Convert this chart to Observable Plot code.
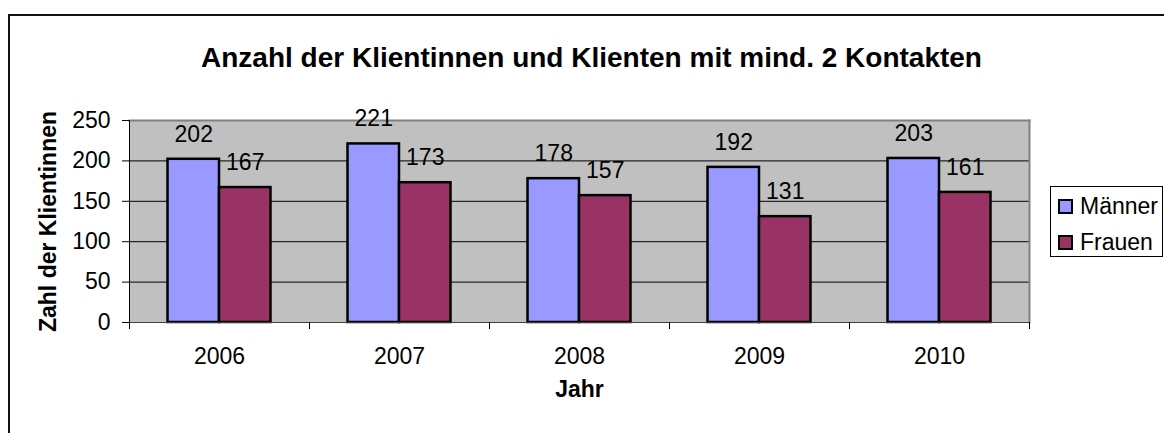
<!DOCTYPE html>
<html>
<head>
<meta charset="utf-8">
<script src="https://cdn.jsdelivr.net/npm/d3@7"></script>
<script src="https://cdn.jsdelivr.net/npm/@observablehq/plot@0.6"></script>
<style>
  html, body { margin: 0; padding: 0; background: #fff; }
  #wrap { position: relative; width: 1164px; height: 433px; overflow: hidden; font-family: "Liberation Sans", Arial, sans-serif; }
  #border { position: absolute; left: 8px; top: 14px; width: 1300px; height: 600px; border-top: 2px solid #111; border-left: 2px solid #111; box-sizing: border-box; }
  #chart { position: absolute; left: 0; top: 0; }
  #legend { position: absolute; left: 1050px; top: 186px; width: 113px; height: 71px; border: 1px solid #000; box-sizing: border-box; background: #fff; font-size: 23px; }
  .item { position: absolute; left: 7px; display: flex; align-items: center; height: 26px; }
  .sw { width: 11px; height: 11px; border: 2px solid #000; margin-right: 7px; }
</style>
</head>
<body>
<div id="wrap">
  <div id="border"></div>
  <div id="chart"></div>
  <div id="legend"></div>
</div>
<script>
const years = ["2006", "2007", "2008", "2009", "2010"];
const maenner = [202, 221, 178, 192, 203];
const frauen = [167, 173, 157, 131, 161];
const seriesNames = ["Männer", "Frauen"];
const seriesColors = ["#9999FF", "#993366"];
const yTicks = [0, 50, 100, 150, 200, 250];
const gridTicks = [50, 100, 150, 200];
const title = "Anzahl der Klientinnen und Klienten mit mind. 2 Kontakten";
const xLabel = "Jahr";
const yLabel = "Zahl der Klientinnen";

const data = years.map((y, i) => ({year: y, m: maenner[i], f: frauen[i]}));

const W = 1164, H = 433, ML = 129, MR = 135, MT = 120, MB = 111;
const step = (W - ML - MR) / years.length;
const barW = 51.5;
const gap = (step - 2 * barW) / 2;

const plot = Plot.plot({
  width: W, height: H,
  marginLeft: ML, marginRight: MR, marginTop: MT, marginBottom: MB,
  style: {fontFamily: "'Liberation Sans', Arial, sans-serif", fontSize: "23px", color: "#000", background: "transparent", overflow: "visible"},
  x: {domain: years, padding: 0},
  y: {domain: [0, 250]},
  marks: [
    Plot.frame({fill: "#C0C0C0"}),
    Plot.gridY(gridTicks, {stroke: "#000", strokeOpacity: 1}),
    Plot.frame({anchor: "top", stroke: "#808080", strokeWidth: 2}),
    Plot.frame({anchor: "right", stroke: "#808080", strokeWidth: 2}),
    Plot.barY(data, {x: "year", y: "m", fill: seriesColors[0], stroke: "#000", strokeWidth: 2.5, insetLeft: gap, insetRight: gap + barW}),
    Plot.barY(data, {x: "year", y: "f", fill: seriesColors[1], stroke: "#000", strokeWidth: 2.5, insetLeft: gap + barW, insetRight: gap}),
    Plot.ruleY([0], {stroke: "#404040"}),
    Plot.frame({anchor: "left", stroke: "#000"}),
    Plot.axisY(yTicks, {tickSize: 7, tickPadding: 12, label: null, stroke: "#000"}),
    Plot.axisX({tickSize: 0, tickPadding: 25, label: null}),
    Plot.axisX({tickSize: 7, tickFormat: () => "", label: null, dx: -step / 2}),
    Plot.axisX([years[years.length - 1]], {tickSize: 7, tickFormat: () => "", label: null, dx: step / 2}),
    Plot.text(data, {x: "year", y: "m", text: "m", dx: -(barW / 2), dy: -25, fontSize: 23}),
    Plot.text(data, {x: "year", y: "f", text: "f", dx: barW / 2, dy: -25, fontSize: 23}),
    Plot.text([title], {frameAnchor: "top", dx: 12, dy: -73, fontSize: 28, fontWeight: "bold"}),
    Plot.text([xLabel], {frameAnchor: "bottom", dy: 74, fontSize: 23, fontWeight: "bold"}),
    Plot.text([yLabel], {frameAnchor: "left", textAnchor: "middle", dx: -81, rotate: -90, fontSize: 23, fontWeight: "bold"})
  ]
});
document.getElementById("chart").appendChild(plot);

const legend = document.getElementById("legend");
seriesNames.forEach((name, i) => {
  const item = document.createElement("div");
  item.className = "item";
  item.style.top = (6 + i * 36) + "px";
  const sw = document.createElement("div");
  sw.className = "sw";
  sw.style.background = seriesColors[i];
  const t = document.createElement("span");
  t.textContent = name;
  item.appendChild(sw);
  item.appendChild(t);
  legend.appendChild(item);
});
</script>
</body>
</html>
